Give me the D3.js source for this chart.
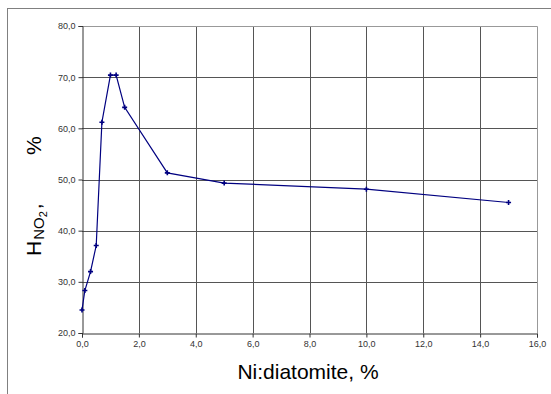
<!DOCTYPE html>
<html>
<head>
<meta charset="utf-8">
<script src="https://cdn.jsdelivr.net/npm/d3@7"></script>
<style>
  body { margin: 0; background: #fff; }
  svg { display: block; font-family: Arial, "Liberation Sans", sans-serif; }
</style>
</head>
<body>
<svg id="chart" width="551" height="394"></svg>
<script>
// Ni:diatomite content (%) and H NO2 (%)
const niContent = [0, 0.1, 0.3, 0.5, 0.7, 1.0, 1.2, 1.5, 3.0, 5.0, 10.0, 15.0];
const hNO2 = [24.5, 28.3, 32.0, 37.1, 61.2, 70.4, 70.4, 64.1, 51.3, 49.3, 48.1, 45.5];
const xTicks = [0, 2, 4, 6, 8, 10, 12, 14, 16];
const yTicks = [20, 30, 40, 50, 60, 70, 80];

const svg = d3.select("#chart");
const fmt = d => d.toFixed(1).replace(".", ",");

// outer frame
svg.append("rect")
    .attr("x", 7.5).attr("y", 8.5)
    .attr("width", 600).attr("height", 500)
    .attr("fill", "none").attr("stroke", "#808080");

const x = d3.scaleLinear().domain([0, 16]).range([82, 537]);
const y = d3.scaleLinear().domain([20, 80]).range([333, 26]);

// grid
svg.append("g").selectAll("line").data(xTicks.slice(1, -1)).join("line")
    .attr("x1", d => Math.round(x(d)) + 0.5).attr("x2", d => Math.round(x(d)) + 0.5)
    .attr("y1", y(80)).attr("y2", y(20))
    .attr("stroke", "#555");
svg.append("g").selectAll("line").data(yTicks.slice(1, -1)).join("line")
    .attr("y1", d => Math.round(y(d)) + 0.5).attr("y2", d => Math.round(y(d)) + 0.5)
    .attr("x1", x(0)).attr("x2", x(16))
    .attr("stroke", "#555");

// top and right border of plot area
svg.append("path")
    .attr("d", `M${x(0)},${Math.round(y(80)) + 0.5}H${Math.round(x(16)) + 0.5}V${y(20)}`)
    .attr("fill", "none").attr("stroke", "#999");

// axes
const xAxis = d3.axisBottom(x).tickValues(xTicks).tickFormat(fmt).tickSizeOuter(0).tickSize(4).tickPadding(3);
const yAxis = d3.axisLeft(y).tickValues(yTicks).tickFormat(fmt).tickSizeOuter(0).tickSize(4).tickPadding(3);

const gx = svg.append("g").attr("transform", `translate(0,${Math.round(y(20)) + 0.5})`).call(xAxis);
const gy = svg.append("g").attr("transform", `translate(${Math.round(x(0)) + 0.5},0)`).call(yAxis);
[gx, gy].forEach(g => {
  g.select(".domain").attr("stroke", "#333");
  g.selectAll(".tick line").attr("stroke", "#333");
  g.selectAll(".tick text").attr("fill", "#333").attr("font-size", "9px")
      .attr("font-family", "Arial, 'Liberation Sans', sans-serif");
});

// series line
const pts = niContent.map((d, i) => [d, hNO2[i]]);
svg.append("path")
    .datum(pts)
    .attr("d", d3.line().x(d => x(d[0])).y(d => y(d[1])))
    .attr("fill", "none").attr("stroke", "#000080").attr("stroke-width", 1.2);

// markers (small crosses)
svg.append("g").selectAll("path").data(pts).join("path")
    .attr("transform", d => `translate(${x(d[0])},${y(d[1])})`)
    .attr("d", "M-2.5,0H2.5M0,-2.5V2.5")
    .attr("stroke", "#000080").attr("stroke-width", 1.6);

// axis titles
svg.append("text")
    .attr("x", 308).attr("y", 379)
    .attr("text-anchor", "middle")
    .attr("font-size", "21px").attr("fill", "#000")
    .text("Ni:diatomite, %");

const yt = svg.append("text")
    .attr("transform", "translate(41,256) rotate(-90)")
    .attr("text-anchor", "start")
    .attr("font-size", "21px").attr("fill", "#000");
yt.append("tspan").text("H");
yt.append("tspan").attr("font-size", "15px").attr("dy", 3).attr("dx", 1).text("NO");
yt.append("tspan").attr("font-size", "11px").attr("dy", 3).text("2");
yt.append("tspan").attr("dy", -6).attr("dx", 2).text(",");
yt.append("tspan").attr("x", 101).text("%");
</script>
</body>
</html>
